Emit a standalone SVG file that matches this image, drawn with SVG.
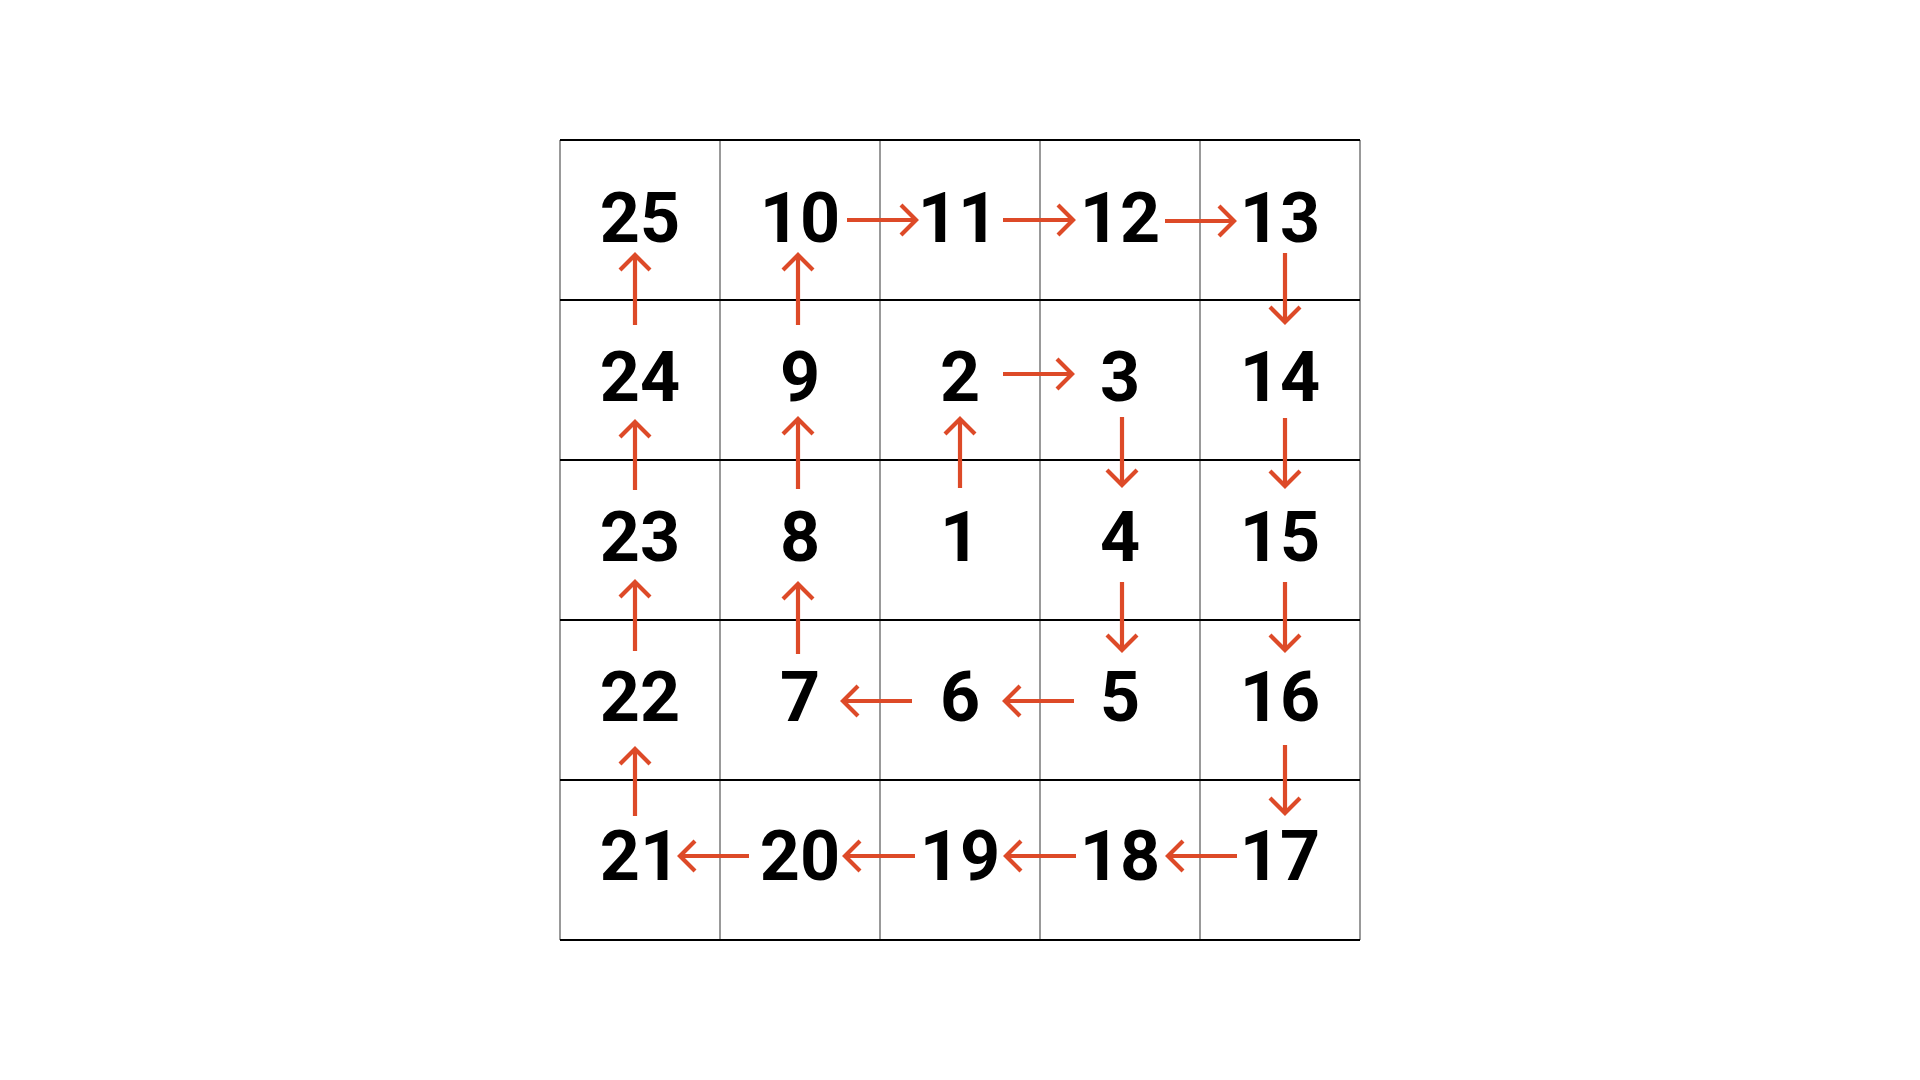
<svg xmlns="http://www.w3.org/2000/svg" width="1920" height="1080" viewBox="0 0 1920 1080">
  <defs>
    <marker id="ah" markerUnits="userSpaceOnUse" viewBox="-20 -20 40 40" markerWidth="40" markerHeight="40" refX="0" refY="0" orient="auto" overflow="visible">
      <path d="M -15,-15 L 0,0 L -15,15" fill="none" stroke="#DD4A28" stroke-width="4.2"/>
    </marker>
  </defs>
  <style>
    .v { stroke: #555; stroke-width: 1.2; }
    .h { stroke: #000; stroke-width: 2.2; }
    .n { font-family: Roboto, "Liberation Sans", sans-serif; font-weight: 700; font-size: 70px; fill: #000; text-anchor: middle; }
    .a { stroke: #DD4A28; stroke-width: 4.2; fill: none; marker-end: url(#ah); }
  </style>
  <rect width="1920" height="1080" fill="#fff"/>
  <g id="grid">
    <line class="v" x1="560" y1="140" x2="560" y2="940"/>
    <line class="v" x1="720" y1="140" x2="720" y2="940"/>
    <line class="v" x1="880" y1="140" x2="880" y2="940"/>
    <line class="v" x1="1040" y1="140" x2="1040" y2="940"/>
    <line class="v" x1="1200" y1="140" x2="1200" y2="940"/>
    <line class="v" x1="1360" y1="140" x2="1360" y2="940"/>
    <line class="h" x1="560" y1="140" x2="1360" y2="140"/>
    <line class="h" x1="560" y1="300" x2="1360" y2="300"/>
    <line class="h" x1="560" y1="460" x2="1360" y2="460"/>
    <line class="h" x1="560" y1="620" x2="1360" y2="620"/>
    <line class="h" x1="560" y1="780" x2="1360" y2="780"/>
    <line class="h" x1="560" y1="940" x2="1360" y2="940"/>
  </g>
  <g id="n25"><text class="n" x="640" y="242">25</text></g>
  <g id="n10"><text class="n" x="800" y="242">10</text></g>
  <g id="n11"><text class="n" x="958" y="242">11</text></g>
  <g id="n12"><text class="n" x="1120" y="242">12</text></g>
  <g id="n13"><text class="n" x="1280" y="242">13</text></g>
  <g id="n24"><text class="n" x="640" y="401">24</text></g>
  <g id="n9"><text class="n" x="800" y="401">9</text></g>
  <g id="n2"><text class="n" x="960" y="401">2</text></g>
  <g id="n3"><text class="n" x="1120" y="401">3</text></g>
  <g id="n14"><text class="n" x="1280" y="401">14</text></g>
  <g id="n23"><text class="n" x="640" y="561">23</text></g>
  <g id="n8"><text class="n" x="800" y="561">8</text></g>
  <g id="n1"><text class="n" x="960" y="561">1</text></g>
  <g id="n4"><text class="n" x="1120" y="561">4</text></g>
  <g id="n15"><text class="n" x="1280" y="561">15</text></g>
  <g id="n22"><text class="n" x="640" y="721">22</text></g>
  <g id="n7"><text class="n" x="800" y="721">7</text></g>
  <g id="n6"><text class="n" x="960" y="721">6</text></g>
  <g id="n5"><text class="n" x="1120" y="721">5</text></g>
  <g id="n16"><text class="n" x="1280" y="721">16</text></g>
  <g id="n21"><text class="n" x="640" y="880">21</text></g>
  <g id="n20"><text class="n" x="800" y="880">20</text></g>
  <g id="n19"><text class="n" x="960" y="880">19</text></g>
  <g id="n18"><text class="n" x="1120" y="880">18</text></g>
  <g id="n17"><text class="n" x="1280" y="880">17</text></g>
  <g id="connectors">
    <!-- 1 -> 2 -->
    <line class="a" x1="960" y1="488" x2="960" y2="419"/>
    <!-- 2 -> 3 -->
    <line class="a" x1="1003" y1="374" x2="1072" y2="374"/>
    <!-- 3 -> 4 -->
    <line class="a" x1="1122" y1="417" x2="1122" y2="485"/>
    <!-- 4 -> 5 -->
    <line class="a" x1="1122" y1="582" x2="1122" y2="650"/>
    <!-- 5 -> 6 -->
    <line class="a" x1="1074" y1="701" x2="1005" y2="701"/>
    <!-- 6 -> 7 -->
    <line class="a" x1="912" y1="701" x2="843" y2="701"/>
    <!-- 7 -> 8 -->
    <line class="a" x1="798" y1="654" x2="798" y2="584"/>
    <!-- 8 -> 9 -->
    <line class="a" x1="798" y1="489" x2="798" y2="419"/>
    <!-- 9 -> 10 -->
    <line class="a" x1="798" y1="325" x2="798" y2="255"/>
    <!-- 10 -> 11 -->
    <line class="a" x1="847" y1="220" x2="916" y2="220"/>
    <!-- 11 -> 12 -->
    <line class="a" x1="1003" y1="220" x2="1073" y2="220"/>
    <!-- 12 -> 13 -->
    <line class="a" x1="1165" y1="221" x2="1234" y2="221"/>
    <!-- 13 -> 14 -->
    <line class="a" x1="1285" y1="253" x2="1285" y2="322"/>
    <!-- 14 -> 15 -->
    <line class="a" x1="1285" y1="418" x2="1285" y2="486"/>
    <!-- 15 -> 16 -->
    <line class="a" x1="1285" y1="582" x2="1285" y2="650"/>
    <!-- 16 -> 17 -->
    <line class="a" x1="1285" y1="745" x2="1285" y2="813"/>
    <!-- 17 -> 18 -->
    <line class="a" x1="1237" y1="856" x2="1168" y2="856"/>
    <!-- 18 -> 19 -->
    <line class="a" x1="1076" y1="856" x2="1006" y2="856"/>
    <!-- 19 -> 20 -->
    <line class="a" x1="915" y1="856" x2="845" y2="856"/>
    <!-- 20 -> 21 -->
    <line class="a" x1="749" y1="856" x2="680" y2="856"/>
    <!-- 21 -> 22 -->
    <line class="a" x1="635" y1="816" x2="635" y2="749"/>
    <!-- 22 -> 23 -->
    <line class="a" x1="635" y1="651" x2="635" y2="582"/>
    <!-- 23 -> 24 -->
    <line class="a" x1="635" y1="490" x2="635" y2="422"/>
    <!-- 24 -> 25 -->
    <line class="a" x1="635" y1="325" x2="635" y2="255"/>
  </g>
</svg>
